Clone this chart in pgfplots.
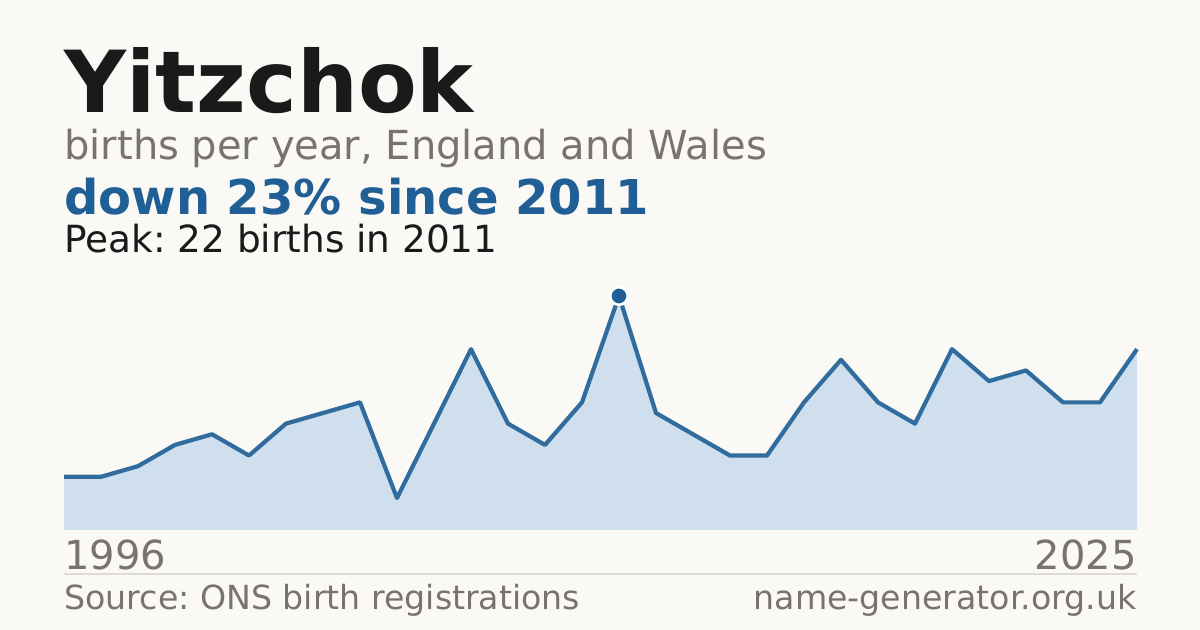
\documentclass[border=0pt]{standalone}
\usepackage{fontspec}
\setmainfont{DejaVu Sans}
\usepackage{pgfplots}
\usepackage{pgfplotstable}
\pgfplotsset{compat=1.18}
\frenchspacing

\definecolor{bg}{HTML}{FAF9F5}
\definecolor{ink}{HTML}{1A1A1A}
\definecolor{muted}{HTML}{78746D}
\definecolor{accent}{HTML}{1F5F95}
\definecolor{areafill}{HTML}{CFDFEE}
\definecolor{rule}{HTML}{DEDBD5}

% births per year
\pgfplotstableread{
year births
1996 5
1997 5
1998 6
1999 8
2000 9
2001 7
2002 10
2003 11
2004 12
2005 3
2006 10
2007 17
2008 10
2009 8
2010 12
2011 22
2012 11
2013 9
2014 7
2015 7
2016 12
2017 16
2018 12
2019 10
2020 17
2021 14
2022 15
2023 12
2024 12
2025 17
}\births

\begin{document}
\begin{tikzpicture}
\fill[bg] (0,0) rectangle (600pt,315pt);

% header text
\node[anchor=base west, inner sep=0, text=ink, font=\fontsize{42.8}{48}\selectfont\bfseries] at (32pt,258.5pt) {Yitzchok};
\node[anchor=base west, inner sep=0, text=muted, font=\fontsize{20}{24}\selectfont] at (32pt,235pt) {births per year, England and Wales};
\node[anchor=base west, inner sep=0, text=accent, font=\fontsize{24}{28}\selectfont\bfseries] at (32pt,207.5pt) {down 23\% since 2011};
\node[anchor=base west, inner sep=0, text=ink, font=\fontsize{18.7}{22}\selectfont] at (32pt,188.5pt) {Peak: 22 births in 2011};

\begin{axis}[
    at={(32pt,50pt)}, anchor=south west,
    scale only axis,
    width=536.5pt, height=117pt,
    xmin=1996, xmax=2025,
    ymin=0, ymax=22,
    hide axis,
    clip=false,
]
% shaded area under the line
\addplot[draw=none, fill=areafill] table[x=year, y=births] {\births} \closedcycle;
% the line itself
\addplot[accent!92!white, line width=2.1pt, line join=round, mark=none] table[x=year, y=births] {\births};
% peak marker
\addplot[only marks, mark=*, mark size=4.4pt, mark options={fill=accent, draw=white, line width=1.3pt}] coordinates {(2011,22)};
\end{axis}

% footer
\node[anchor=base west, inner sep=0, text=muted, font=\fontsize{20}{24}\selectfont] at (32pt,30pt) {1996};
\node[anchor=base east, inner sep=0, text=muted, font=\fontsize{20}{24}\selectfont] at (568.5pt,30pt) {2025};
\draw[rule, line width=0.6pt] (32pt,28pt) -- (568.5pt,28pt);
\node[anchor=base west, inner sep=0, text=muted, font=\fontsize{16.6}{19}\selectfont] at (32pt,10pt) {Source: ONS birth registrations};
\node[anchor=base east, inner sep=0, text=muted, font=\fontsize{16.6}{19}\selectfont] at (568.5pt,10pt) {name-generator.org.uk};
\end{tikzpicture}
\end{document}
